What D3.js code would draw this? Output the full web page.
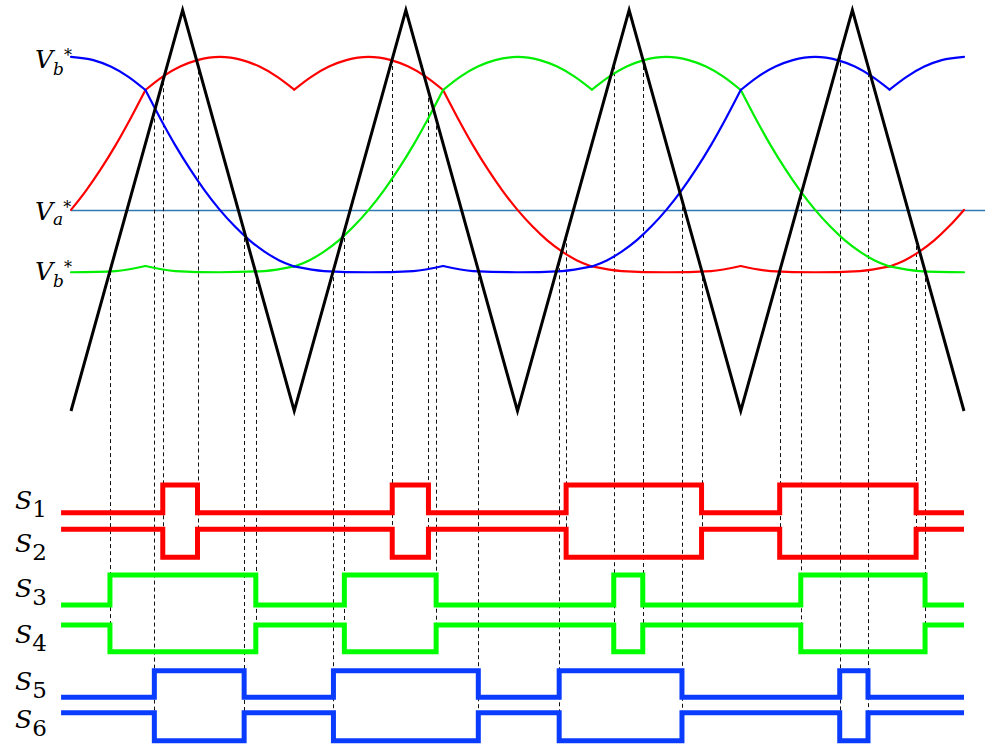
<!DOCTYPE html>
<html><head><meta charset="utf-8">
<script src="https://cdn.jsdelivr.net/npm/d3@7"></script>
<style>html,body{margin:0;padding:0;background:#fff;} svg{display:block}</style>
</head><body>
<svg id="chart" width="985" height="748"></svg>
<script>
// ---------------- DATA (angle in degrees over one fundamental cycle) ----------------
const carrierT = [0, 45, 90, 135, 180, 225, 270, 315, 360];
const carrierV = [-1, 1, -1, 1, -1, 1, -1, 1, -1];

const kinkT = [30, 90, 150, 210, 270, 330];

const redT = [0, 6, 12, 18, 24, 30, 37, 44, 51, 60, 69, 76, 83, 90, 97, 104, 111, 120, 129, 136, 143, 150, 156, 162, 168, 174, 180, 186, 192, 198, 204, 210, 222, 240, 258, 270, 282, 300, 318, 330, 336, 342, 348, 354, 360];
const redV = [0.003, 0.098, 0.206, 0.326, 0.459, 0.601, 0.668, 0.718, 0.75, 0.766, 0.75, 0.718, 0.668, 0.603, 0.668, 0.718, 0.75, 0.766, 0.75, 0.718, 0.668, 0.601, 0.459, 0.326, 0.206, 0.098, 0.003, -0.079, -0.149, -0.205, -0.249, -0.279, -0.302, -0.308, -0.302, -0.277, -0.302, -0.308, -0.302, -0.279, -0.249, -0.205, -0.149, -0.079, 0.003];

const greenT = [0, 18, 30, 42, 60, 78, 90, 96, 102, 108, 114, 120, 126, 132, 138, 144, 150, 157, 164, 171, 180, 189, 196, 203, 210, 217, 224, 231, 240, 249, 256, 263, 270, 276, 282, 288, 294, 300, 306, 312, 318, 324, 330, 342, 360];
const greenV = [-0.308, -0.302, -0.277, -0.302, -0.308, -0.302, -0.279, -0.249, -0.205, -0.149, -0.079, 0.003, 0.098, 0.206, 0.326, 0.459, 0.601, 0.668, 0.718, 0.75, 0.766, 0.75, 0.718, 0.668, 0.603, 0.668, 0.718, 0.75, 0.766, 0.75, 0.718, 0.668, 0.601, 0.459, 0.326, 0.206, 0.098, 0.003, -0.079, -0.149, -0.205, -0.249, -0.279, -0.302, -0.308];

const blueT = [0, 9, 16, 23, 30, 36, 42, 48, 54, 60, 66, 72, 78, 84, 90, 102, 120, 138, 150, 162, 180, 198, 210, 216, 222, 228, 234, 240, 246, 252, 258, 264, 270, 277, 284, 291, 300, 309, 316, 323, 330, 337, 344, 351, 360];
const blueV = [0.766, 0.75, 0.718, 0.668, 0.601, 0.459, 0.326, 0.206, 0.098, 0.003, -0.079, -0.149, -0.205, -0.249, -0.279, -0.302, -0.308, -0.302, -0.277, -0.302, -0.308, -0.302, -0.279, -0.249, -0.205, -0.149, -0.079, 0.003, 0.098, 0.206, 0.326, 0.459, 0.601, 0.668, 0.718, 0.75, 0.766, 0.75, 0.718, 0.668, 0.603, 0.668, 0.718, 0.75, 0.766];

// switching instants (carrier / reference intersections)
const redEdges   = [37.0, 51.0, 129.5, 144.1, 199.6, 254.2, 285.7, 340.7];
const greenEdges = [15.7, 74.5, 110.2, 147.2, 218.8, 230.5, 294.2, 344.3];
const blueEdges  = [33.6, 69.8, 105.8, 164.2, 196.8, 246.3, 309.9, 321.3];
const signalSpan = [-4, 360];

const refLabelSub = ["b", "a", "b"];
const switchNames = ["1", "2", "3", "4", "5", "6"];

// ---------------- LAYOUT / STYLE ----------------
const svg = d3.select("#chart");
const x = d3.scaleLinear().domain([0, 360]).range([71, 964]);
const yTop = d3.scaleLinear().domain([-1, 1]).range([411, 10]);
const carrierAt = d3.scaleLinear().domain(carrierT).range(carrierV);

const rows = [
  {lo: 512.7, hi: 485.0, edges: redEdges,   inv: false, color: "#ff0000", lab: 509},
  {lo: 557.3, hi: 529.3, edges: redEdges,   inv: true,  color: "#ff0000", lab: 552},
  {lo: 605.0, hi: 575.0, edges: greenEdges, inv: false, color: "#00ff00", lab: 597},
  {lo: 651.7, hi: 625.0, edges: greenEdges, inv: true,  color: "#00ff00", lab: 643},
  {lo: 697.3, hi: 670.7, edges: blueEdges,  inv: false, color: "#0a3cff", lab: 690},
  {lo: 740.7, hi: 712.7, edges: blueEdges,  inv: true,  color: "#0a3cff", lab: 728}
];
const dashEnds = [{edges: redEdges, y: rows[1].hi}, {edges: greenEdges, y: rows[3].hi}, {edges: blueEdges, y: rows[5].hi}];

// reference line V_a*
svg.append("line")
  .attr("x1", x(0)).attr("x2", 985)
  .attr("y1", yTop(0)).attr("y2", yTop(0))
  .attr("stroke", "#2f7ab5").attr("stroke-width", 1.3);

// dashed projection lines
dashEnds.forEach(g => {
  svg.append("g").selectAll("line").data(g.edges).join("line")
    .attr("x1", d => Math.round(x(d)) + 0.5).attr("x2", d => Math.round(x(d)) + 0.5)
    .attr("y1", d => yTop(carrierAt(d))).attr("y2", g.y)
    .attr("stroke", "#111").attr("stroke-width", 1)
    .attr("stroke-dasharray", "4,3");
});

// reference curves, split at kinks
const bounds = [0, ...kinkT, 360];
const curveLine = d3.line().x(d => x(d[0])).y(d => yTop(d[1])).curve(d3.curveMonotoneX);
function drawRef(T, V, color) {
  const pts = T.map((t, i) => [t, V[i]]);
  for (let k = 0; k < bounds.length - 1; k++) {
    const seg = pts.filter(p => p[0] >= bounds[k] && p[0] <= bounds[k + 1]);
    svg.append("path").attr("d", curveLine(seg))
      .attr("fill", "none").attr("stroke", color).attr("stroke-width", 2.2)
      .attr("stroke-linecap", "round").attr("stroke-linejoin", "round");
  }
}
drawRef(redT, redV, "#ff0000");
drawRef(greenT, greenV, "#00ee00");
drawRef(blueT, blueV, "#0000ff");

// carrier
svg.append("path")
  .attr("d", d3.line().x(d => x(d[0])).y(d => yTop(d[1]))(carrierT.map((t, i) => [t, carrierV[i]])))
  .attr("fill", "none").attr("stroke", "#000").attr("stroke-width", 3)
  .attr("stroke-linejoin", "miter");

// switching signals
rows.forEach(r => {
  const ys = d3.scaleLinear().domain([0, 1]).range([r.lo, r.hi]);
  let v = r.inv ? 1 : 0;
  const pts = [[signalSpan[0], v]];
  r.edges.forEach(e => { v = 1 - v; pts.push([e, v]); });
  pts.push([signalSpan[1], v]);
  svg.append("path")
    .attr("d", d3.line().x(d => x(d[0])).y(d => ys(d[1])).curve(d3.curveStepAfter)(pts))
    .attr("fill", "none").attr("stroke", r.color).attr("stroke-width", 5)
    .attr("stroke-linejoin", "miter").attr("stroke-linecap", "butt");
});

// labels (one text element each, with sub/superscript tspans)
const font = "'DejaVu Serif', 'Liberation Serif', serif";
rows.forEach((r, i) => {
  const t = svg.append("text").attr("font-family", font).attr("fill", "#000")
    .attr("x", 15).attr("y", r.lab);
  t.append("tspan").attr("font-style", "italic").attr("font-size", 25).text("S");
  t.append("tspan").attr("dx", 0).attr("dy", 8).attr("font-size", 23).text(switchNames[i]);
});
const vBase = [68, 220, 280];
const vSub = [7, 5, 7];
refLabelSub.forEach((s, i) => {
  const t = svg.append("text").attr("font-family", font).attr("fill", "#000")
    .attr("x", 35).attr("y", vBase[i]);
  t.append("tspan").attr("font-style", "italic").attr("font-size", 25).text("V");
  t.append("tspan").attr("dx", 0).attr("dy", vSub[i]).attr("font-style", "italic").attr("font-size", 17).text(s);
  t.append("tspan").attr("dx", 0).attr("dy", -vSub[i] - 7).attr("font-size", 16).text("*");
});
</script>
</body></html>
